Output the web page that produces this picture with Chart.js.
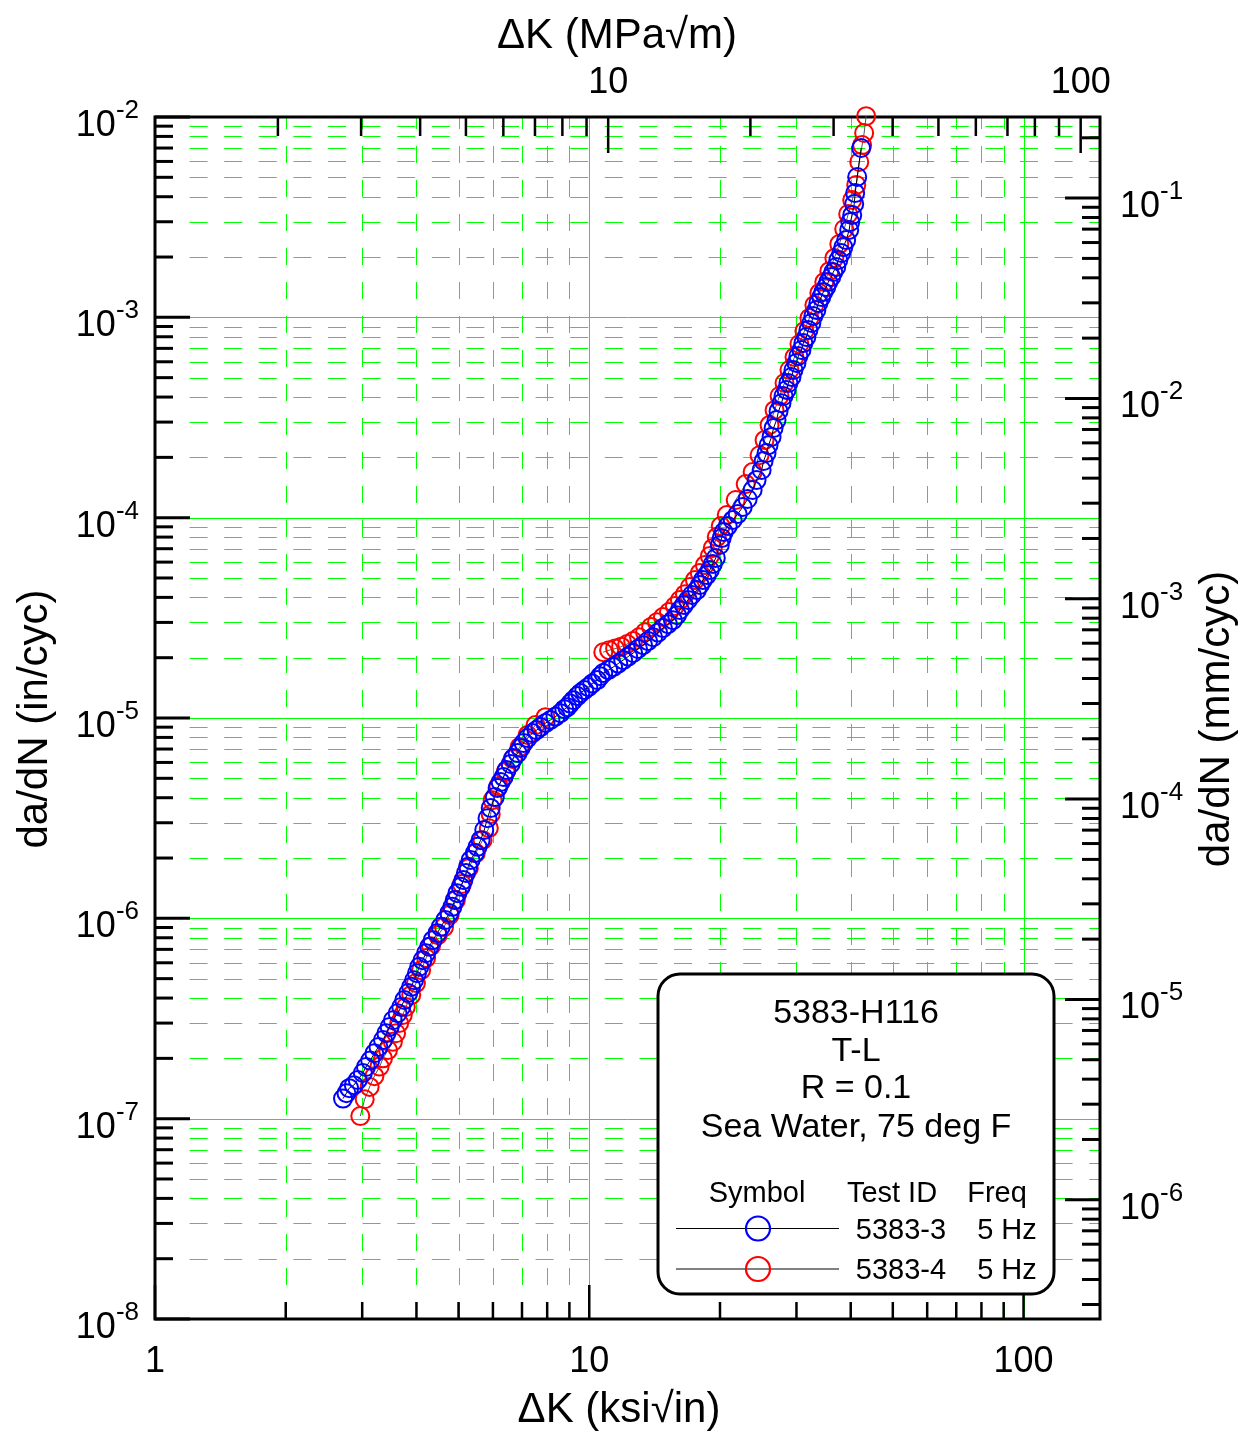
<!DOCTYPE html>
<html>
<head>
<meta charset="utf-8">
<style>
  html, body { margin: 0; padding: 0; background: #fff; }
  canvas { display: block; }
</style>
</head>
<body>
<canvas id="chart" width="1247" height="1432" style="width:1247px;height:1432px"></canvas>
<script src="https://cdn.jsdelivr.net/npm/chart.js@4.4.0/dist/chart.umd.min.js"></script>
<script>
// specimen 5383-3 : dK (ksi sqrt in) and da/dN (in/cyc)
var dk3 = [2.71, 2.76, 2.80, 2.87, 2.93, 3.01, 3.06, 3.13, 3.20, 3.27,
  3.35, 3.41, 3.47, 3.53, 3.62, 3.69, 3.75, 3.83, 3.89, 3.95,
  4.01, 4.06, 4.13, 4.21, 4.28, 4.36, 4.47, 4.55, 4.66, 4.76,
  4.84, 4.90, 4.97, 5.06, 5.13, 5.20, 5.26, 5.33, 5.45, 5.53, 5.62,
  5.73, 5.83, 5.93, 6.06, 6.15, 6.25, 6.35, 6.45, 6.59, 6.69, 6.84, 6.95, 7.06, 7.21, 7.40, 7.56,
  7.72, 7.93, 8.14, 8.36, 8.58, 8.76, 8.90, 9.04, 9.19, 9.39,
  9.54, 9.74, 9.95, 10.16, 10.43, 10.60, 10.77, 11.06, 11.35, 11.66,
  11.97, 12.29, 12.62, 12.95, 13.30, 13.66, 14.03, 14.40, 14.78, 15.18,
  15.58, 15.92, 16.17, 16.51, 16.87, 17.23, 17.69, 17.97, 18.26, 18.65,
  18.95, 19.25, 19.56,
  19.98, 20.18, 20.40, 20.84, 21.39, 21.97, 22.56, 23.16, 23.78, 24.28,
  24.94, 25.20, 25.60, 25.87, 26.29, 26.57, 26.99, 27.28, 27.71, 28.01,
  28.46, 28.75, 29.22, 29.53, 30.00, 30.31, 30.80, 31.12, 31.62, 31.96,
  32.47, 32.81, 33.34, 33.70, 34.22, 34.59, 35.14, 35.51, 36.08, 36.47,
  37.05, 37.45, 38.04, 38.46, 39.05, 39.68, 39.90, 40.32, 40.75, 40.96,
  41.40, 42.28];
var rate3 = [1.26e-7, 1.34e-7, 1.42e-7, 1.47e-7, 1.56e-7, 1.69e-7, 1.81e-7, 1.95e-7, 2.12e-7, 2.28e-7,
  2.47e-7, 2.67e-7, 2.87e-7, 3.10e-7, 3.36e-7, 3.61e-7, 3.91e-7, 4.24e-7, 4.55e-7, 4.91e-7,
  5.32e-7, 5.73e-7, 6.18e-7, 6.70e-7, 7.21e-7, 7.78e-7, 8.43e-7, 9.07e-7, 9.80e-7, 1.062e-6,
  1.141e-6, 1.233e-6, 1.336e-6, 1.436e-6, 1.552e-6, 1.682e-6, 1.807e-6, 1.954e-6, 2.117e-6, 2.275e-6, 2.455e-6,
  2.76e-6, 3.16e-6, 3.55e-6, 4.03e-6, 4.47e-6, 4.79e-6, 5.07e-6, 5.50e-6, 5.89e-6, 6.31e-6, 6.68e-6, 7.08e-6, 7.50e-6, 7.94e-6, 8.41e-6, 8.70e-6,
  9.01e-6, 9.43e-6, 9.77e-6, 1.016e-5, 1.057e-5, 1.107e-5, 1.133e-5, 1.180e-5, 1.228e-5, 1.286e-5,
  1.332e-5, 1.378e-5, 1.427e-5, 1.485e-5, 1.546e-5, 1.618e-5, 1.676e-5, 1.734e-5, 1.796e-5, 1.869e-5,
  1.946e-5, 2.025e-5, 2.11e-5, 2.21e-5, 2.31e-5, 2.42e-5, 2.53e-5, 2.67e-5, 2.81e-5, 2.94e-5,
  3.08e-5, 3.26e-5, 3.46e-5, 3.66e-5, 3.88e-5, 4.11e-5, 4.35e-5, 4.61e-5, 4.88e-5, 5.17e-5,
  5.48e-5, 5.87e-5, 6.29e-5,
  7.30e-5, 7.91e-5, 8.48e-5, 9.08e-5, 9.73e-5, 1.042e-4, 1.130e-4, 1.239e-4, 1.374e-4, 1.54e-4,
  1.729e-4, 1.917e-4, 2.10e-4, 2.30e-4, 2.53e-4, 2.80e-4, 3.07e-4, 3.40e-4, 3.73e-4, 4.05e-4,
  4.34e-4, 4.70e-4, 5.04e-4, 5.46e-4, 5.92e-4, 6.41e-4, 6.87e-4, 7.44e-4, 7.97e-4, 8.64e-4,
  9.37e-4, 1.015e-3, 1.087e-3, 1.179e-3, 1.262e-3, 1.337e-3, 1.416e-3, 1.500e-3, 1.589e-3, 1.683e-3,
  1.783e-3, 1.932e-3, 2.094e-3, 2.24e-3, 2.43e-3, 2.73e-3, 2.99e-3, 3.24e-3, 3.68e-3, 4.17e-3,
  5.02e-3, 7.00e-3];

// specimen 5383-4
var dk4 = [2.97, 3.04, 3.12, 3.20, 3.29, 3.35, 3.44, 3.53, 3.59, 3.65, 3.72, 3.78,
  3.89, 3.99, 4.10, 4.21, 4.32, 4.48, 4.63, 4.77, 4.93, 5.09, 5.28, 5.48, 5.68, 5.87, 5.93,
  5.99, 6.18, 6.42, 6.66, 6.91, 7.21, 7.52, 7.93,
  10.77, 11.11, 11.47, 11.84, 12.23, 12.62, 13.02, 13.44, 13.88, 14.32,
  14.78, 15.26, 15.75, 16.17, 16.61, 17.05, 17.51, 17.97, 18.46, 18.95,
  19.25, 19.66, 20.08, 20.73, 21.74, 22.92, 23.78, 24.67, 25.33, 26.01,
  26.71, 27.43, 28.16, 28.91, 29.69, 30.48, 31.29, 32.13, 32.99, 33.87,
  34.77, 35.71, 36.67, 37.65, 38.65, 39.47, 40.32, 41.19, 41.85, 42.50,
  42.95, 43.41];
var rate4 = [1.03e-7, 1.25e-7, 1.44e-7, 1.63e-7, 1.82e-7, 2.00e-7, 2.20e-7, 2.42e-7, 2.67e-7, 3.00e-7, 3.29e-7, 3.61e-7,
  4.14e-7, 4.75e-7, 5.51e-7, 6.33e-7, 7.26e-7, 8.24e-7, 9.04e-7, 1.038e-6, 1.233e-6, 1.482e-6, 1.78e-6, 2.117e-6, 2.455e-6, 2.82e-6, 3.31e-6,
  3.89e-6, 4.57e-6, 5.37e-6, 6.24e-6, 7.16e-6, 8.22e-6, 9.22e-6, 1.010e-5,
  2.13e-5, 2.18e-5, 2.22e-5, 2.27e-5, 2.34e-5, 2.42e-5, 2.53e-5, 2.68e-5, 2.85e-5, 3.01e-5,
  3.19e-5, 3.38e-5, 3.62e-5, 3.88e-5, 4.15e-5, 4.51e-5, 4.88e-5, 5.29e-5, 5.80e-5, 6.43e-5,
  7.05e-5, 8.0e-5, 9.08e-5, 1.03e-4, 1.225e-4, 1.471e-4, 1.689e-4, 2.05e-4, 2.44e-4, 2.90e-4,
  3.44e-4, 4.05e-4, 4.70e-4, 5.46e-4, 6.33e-4, 7.36e-4, 8.54e-4, 9.92e-4, 1.151e-3, 1.322e-3,
  1.50e-3, 1.70e-3, 1.977e-3, 2.32e-3, 2.76e-3, 3.28e-3, 3.85e-3, 4.58e-3, 5.96e-3, 7.24e-3,
  8.32e-3, 1.01e-2];

// tick labels
var xTickLabels = [1, 10, 100];
var x2TickLabels = [10, 100];
var yExponents = [-2, -3, -4, -5, -6, -7, -8];
var y2Exponents = [-1, -2, -3, -4, -5, -6];

// text box
var infoLines = ['5383-H116', 'T-L', 'R = 0.1', 'Sea Water, 75 deg F'];
var legendHeads = ['Symbol', 'Test ID', 'Freq'];
var testIds = ['5383-3', '5383-4'];
var freqs = ['5 Hz', '5 Hz'];
var symbolColors = ['#0000ff', '#ff0000'];
var symbolLines = ['#000000', '#808080'];

var FONT = "'Liberation Sans', Arial, sans-serif";

function pairs(xs, ys) {
  return xs.map(function (x, i) { return { x: x, y: ys[i] }; });
}

function logSteps(min, max) {
  var out = [];
  var d0 = Math.floor(Math.log10(min) + 1e-9), d1 = Math.ceil(Math.log10(max));
  for (var d = d0; d <= d1; d++) {
    for (var m = 1; m <= 9; m++) {
      var v = m * Math.pow(10, d);
      if (v >= min * (1 - 1e-9) && v <= max * (1 + 1e-9)) out.push({ v: v, m: m });
    }
  }
  return out;
}

function seg(ctx, x1, y1, x2, y2) {
  ctx.beginPath();
  ctx.moveTo(x1, y1);
  ctx.lineTo(x2, y2);
  ctx.stroke();
}

function powerLabel(ctx, exp, x, y, align) {
  var base = '10', sup = String(exp);
  ctx.font = '36px ' + FONT;
  var wb = ctx.measureText(base).width;
  ctx.font = '26px ' + FONT;
  var ws = ctx.measureText(sup).width;
  var left = align === 'right' ? x - wb - ws : x;
  ctx.textAlign = 'left';
  ctx.font = '36px ' + FONT;
  ctx.fillText(base, left, y + 19);
  ctx.font = '26px ' + FONT;
  ctx.fillText(sup, left + wb, y + 1);
}

var framePlugin = {
  id: 'frame',
  beforeDatasetsDraw: function (chart) {
    var ctx = chart.ctx, a = chart.chartArea;
    var sx = chart.scales.x, sy = chart.scales.y, sx2 = chart.scales.x2, sy2 = chart.scales.y2;
    ctx.save();
    ctx.lineWidth = 1;
    ctx.strokeStyle = '#00ff00';
    ctx.lineCap = 'butt';
    // vertical grid, dashes run up from the bottom
    logSteps(sx.min, sx.max).forEach(function (t) {
      var px = Math.round(sx.getPixelForValue(t.v)) + 0.5;
      ctx.setLineDash(t.m === 1 ? [] : [17, 17]);
      seg(ctx, px, a.bottom, px, a.top);
    });
    // horizontal grid
    logSteps(sy.min, sy.max).forEach(function (t) {
      var py = Math.round(sy.getPixelForValue(t.v)) + 0.5;
      ctx.setLineDash(t.m === 1 ? [] : [18, 16.6]);
      seg(ctx, a.left, py, a.right, py);
    });
    ctx.setLineDash([]);

    // ticks, pointing inward
    ctx.strokeStyle = '#000';
    ctx.lineWidth = 3;
    logSteps(sy.min, sy.max).forEach(function (t) {
      var py = sy.getPixelForValue(t.v);
      seg(ctx, a.left, py, a.left + (t.m === 1 ? 35 : 18), py);
    });
    logSteps(sy2.min, sy2.max).forEach(function (t) {
      var py = sy2.getPixelForValue(t.v);
      seg(ctx, a.right, py, a.right - (t.m === 1 ? 35 : 18), py);
    });
    ctx.lineWidth = 2.5;
    logSteps(sx.min, sx.max).forEach(function (t) {
      var px = sx.getPixelForValue(t.v);
      seg(ctx, px, a.bottom, px, a.bottom - (t.m === 1 ? 34 : 17));
    });
    logSteps(sx2.min, sx2.max).forEach(function (t) {
      var px = sx2.getPixelForValue(t.v);
      seg(ctx, px, a.top, px, a.top + (t.m === 1 ? 36 : 19));
    });

    // frame
    ctx.lineWidth = 3;
    ctx.strokeRect(a.left, a.top, a.right - a.left, a.bottom - a.top);
    ctx.restore();
  },
  afterDraw: function (chart) {
    var ctx = chart.ctx;
    var sx = chart.scales.x, sy = chart.scales.y, sx2 = chart.scales.x2, sy2 = chart.scales.y2;
    ctx.save();
    ctx.fillStyle = '#000';
    ctx.textBaseline = 'alphabetic';

    // tick labels
    ctx.font = '36px ' + FONT;
    ctx.textAlign = 'center';
    xTickLabels.forEach(function (v) { ctx.fillText(String(v), sx.getPixelForValue(v), 1372); });
    x2TickLabels.forEach(function (v) { ctx.fillText(String(v), sx2.getPixelForValue(v), 93); });
    yExponents.forEach(function (e) { powerLabel(ctx, e, 139, sy.getPixelForValue(Math.pow(10, e)), 'right'); });
    y2Exponents.forEach(function (e) { powerLabel(ctx, e, 1120, sy2.getPixelForValue(Math.pow(10, e)), 'left'); });

    // axis titles
    ctx.font = '42px ' + FONT;
    ctx.textAlign = 'center';
    ctx.fillText('\u0394K (ksi\u221Ain)', 619, 1422);
    ctx.fillText('\u0394K (MPa\u221Am)', 617, 48);
    ctx.save();
    ctx.translate(47, 719);
    ctx.rotate(-Math.PI / 2);
    ctx.fillText('da/dN (in/cyc)', 0, 0);
    ctx.restore();
    ctx.save();
    ctx.translate(1229, 719);
    ctx.rotate(-Math.PI / 2);
    ctx.fillText('da/dN (mm/cyc)', 0, 0);
    ctx.restore();

    // text box
    var bx = 658, by = 974, bw = 396, bh = 320, r = 22;
    ctx.beginPath();
    ctx.moveTo(bx + r, by);
    ctx.arcTo(bx + bw, by, bx + bw, by + bh, r);
    ctx.arcTo(bx + bw, by + bh, bx, by + bh, r);
    ctx.arcTo(bx, by + bh, bx, by, r);
    ctx.arcTo(bx, by, bx + bw, by, r);
    ctx.closePath();
    ctx.fillStyle = '#fff';
    ctx.fill();
    ctx.lineWidth = 3;
    ctx.strokeStyle = '#000';
    ctx.stroke();

    ctx.fillStyle = '#000';
    ctx.font = '34px ' + FONT;
    ctx.textAlign = 'center';
    var infoBase = [1023, 1061, 1098, 1137];
    infoLines.forEach(function (s, i) { ctx.fillText(s, 856, infoBase[i]); });

    ctx.font = '29px ' + FONT;
    var headX = [757, 892, 997];
    legendHeads.forEach(function (s, i) { ctx.fillText(s, headX[i], 1202); });
    var rowY = [1228.5, 1269];
    testIds.forEach(function (id, i) {
      var y = rowY[i];
      ctx.strokeStyle = symbolLines[i];
      ctx.lineWidth = i === 0 ? 1 : 2;
      seg(ctx, 676, y, 839, y);
      ctx.beginPath();
      ctx.arc(758, y, 12, 0, Math.PI * 2);
      ctx.lineWidth = 2.2;
      ctx.strokeStyle = symbolColors[i];
      ctx.stroke();
      ctx.fillStyle = '#000';
      ctx.fillText(id, 901, Math.round(y) + 10);
      ctx.fillText(freqs[i], 1007, Math.round(y) + 10);
    });
    ctx.restore();
  }
};

// no connecting line across the jump in the 5383-4 record
function gapColor(color) {
  return function (c) {
    return c.p1.parsed.x / c.p0.parsed.x > 1.3 ? 'rgba(0,0,0,0)' : color;
  };
}

new Chart(document.getElementById('chart'), {
  type: 'scatter',
  data: {
    datasets: [
      {
        label: '5383-3',
        data: pairs(dk3, rate3),
        showLine: true,
        borderColor: '#000000',
        borderWidth: 1,
        pointRadius: 9,
        pointBorderWidth: 2,
        pointBorderColor: '#0000ff',
        pointBackgroundColor: 'rgba(0,0,0,0)',
        clip: false
      },
      {
        label: '5383-4',
        data: pairs(dk4, rate4),
        showLine: true,
        borderColor: '#555555',
        borderWidth: 1,
        segment: { borderColor: gapColor('#555555') },
        pointRadius: 9,
        pointBorderWidth: 2,
        pointBorderColor: '#ff0000',
        pointBackgroundColor: 'rgba(0,0,0,0)',
        clip: false
      }
    ]
  },
  options: {
    responsive: false,
    animation: false,
    devicePixelRatio: 1,
    layout: { padding: { left: 155, right: 147, top: 117, bottom: 113 } },
    plugins: { legend: { display: false }, tooltip: { enabled: false } },
    scales: {
      x: { type: 'logarithmic', position: 'bottom', min: 1, max: 150, display: false },
      x2: { type: 'logarithmic', position: 'top', min: 1.0988, max: 109.88, display: false },
      y: { type: 'logarithmic', position: 'left', min: 1e-8, max: 1e-2, display: false },
      y2: { type: 'logarithmic', position: 'right', min: 2.54e-7, max: 0.254, display: false }
    }
  },
  plugins: [framePlugin]
});
</script>
</body>
</html>
